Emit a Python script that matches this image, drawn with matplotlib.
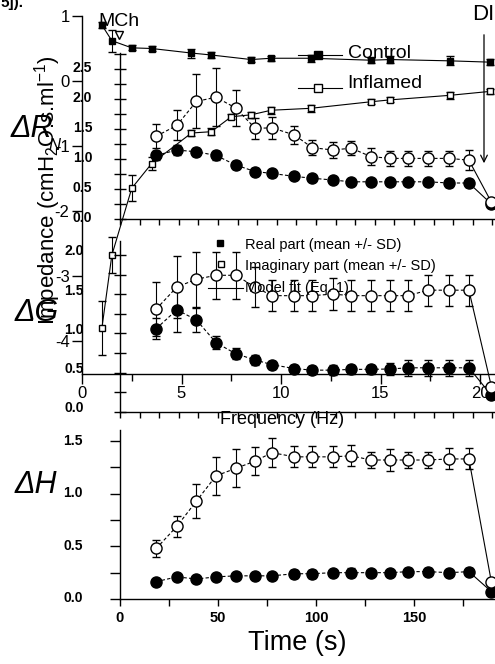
import matplotlib
matplotlib.use('Agg')
import matplotlib.pyplot as plt
from matplotlib.lines import Line2D
from matplotlib.patches import FancyArrowPatch
from matplotlib import font_manager as fm
from matplotlib.ticker import MultipleLocator, FixedLocator
import matplotlib.transforms as mtransforms

W, H = 495, 664
plt.rcParams['font.family'] = ['Liberation Sans', 'DejaVu Sans']
plt.rcParams['mathtext.fontset'] = 'custom'
plt.rcParams['mathtext.rm'] = 'Liberation Sans'
plt.rcParams['mathtext.it'] = 'Liberation Sans:italic'
names = {f.name for f in fm.fontManager.ttflist}
NARROW = 'Liberation Sans Narrow' if 'Liberation Sans Narrow' in names else 'Liberation Sans'

# ---------------- data : impedance spectra (background figure) ----------------
freq_control = [1, 1.5, 2.5, 3.5, 5.5, 6.5, 8.5, 9.5, 11.5, 14.5, 15.5, 18.5, 20.5]
imp_control = [0.86, 0.62, 0.51, 0.50, 0.43, 0.40, 0.33, 0.35, 0.35, 0.32, 0.33, 0.31, 0.29]
imp_control_sd = [0.05, 0.17, 0.04, 0.04, 0.07, 0.04, 0.04, 0.04, 0.05, 0.04, 0.05, 0.07, 0.05]
freq_inflamed = [1, 1.5, 2.5, 3.5, 5.5, 6.5, 7.5, 8.5, 9.5, 11.5, 14.5, 15.5, 18.5, 20.5]
imp_inflamed = [-3.8, -2.68, -1.65, -1.27, -0.8, -0.78, -0.55, -0.52, -0.45, -0.42, -0.32, -0.29, -0.22, -0.16]
imp_inflamed_sd = [0.41, 0.28, 0.2, 0.1, 0.05, 0.05, 0.04, 0.05, 0.05, 0.05, 0.04, 0.04, 0.05, 0.04]
imp_yticks = [1, 0, -1, -2, -3, -4]
imp_xticks = [0, 5, 10, 15, 20]

# ---------------- data : time courses (foreground figure) ----------------
time_s = [18.5, 29, 39, 49, 59, 69, 77.5, 89, 98, 108.5, 118, 128, 138, 147, 157, 168, 178, 189.5]
dRN_inflamed = [1.38, 1.56, 1.96, 2.03, 1.85, 1.51, 1.52, 1.40, 1.19, 1.15, 1.18, 1.04, 1.01, 1.01, 1.01, 1.01, 0.98, 0.28]
dRN_inflamed_sd = [0.2, 0.25, 0.45, 0.48, 0.3, 0.17, 0.18, 0.15, 0.12, 0.14, 0.12, 0.14, 0.12, 0.12, 0.12, 0.12, 0.17, 0.03]
dRN_control = [1.06, 1.15, 1.12, 1.06, 0.90, 0.79, 0.76, 0.71, 0.68, 0.65, 0.62, 0.62, 0.62, 0.62, 0.62, 0.60, 0.60, 0.25]
dRN_control_sd = [0.08, 0.08, 0.07, 0.07, 0.07, 0.06, 0.06, 0.05, 0.05, 0.05, 0.05, 0.05, 0.05, 0.05, 0.05, 0.06, 0.06, 0.02]

dG_inflamed = [1.31, 1.59, 1.69, 1.74, 1.74, 1.59, 1.48, 1.48, 1.48, 1.50, 1.48, 1.48, 1.48, 1.48, 1.55, 1.55, 1.55, 0.32]
dG_inflamed_sd = [0.35, 0.4, 0.35, 0.3, 0.3, 0.25, 0.2, 0.2, 0.2, 0.2, 0.2, 0.2, 0.2, 0.2, 0.2, 0.2, 0.2, 0.05]
dG_control = [1.06, 1.30, 1.17, 0.88, 0.74, 0.66, 0.60, 0.55, 0.53, 0.53, 0.54, 0.54, 0.545, 0.56, 0.56, 0.56, 0.56, 0.21]
dG_control_sd = [0.13, 0.28, 0.15, 0.08, 0.07, 0.06, 0.05, 0.05, 0.05, 0.06, 0.06, 0.06, 0.08, 0.1, 0.1, 0.1, 0.1, 0.02]

dH_inflamed = [0.48, 0.69, 0.93, 1.17, 1.24, 1.31, 1.39, 1.35, 1.35, 1.35, 1.36, 1.32, 1.32, 1.32, 1.32, 1.33, 1.33, 0.16]
dH_inflamed_sd = [0.08, 0.1, 0.16, 0.18, 0.18, 0.13, 0.14, 0.1, 0.1, 0.1, 0.1, 0.08, 0.1, 0.08, 0.08, 0.1, 0.1, 0.02]
dH_control = [0.165, 0.21, 0.19, 0.21, 0.22, 0.22, 0.22, 0.24, 0.24, 0.25, 0.25, 0.25, 0.25, 0.26, 0.26, 0.25, 0.26, 0.07]
dH_control_sd = [0.02, 0.03, 0.03, 0.03, 0.03, 0.03, 0.03, 0.04, 0.04, 0.03, 0.04, 0.03, 0.03, 0.03, 0.03, 0.03, 0.03, 0.01]

fig = plt.figure(figsize=(W / 100, H / 100), dpi=100)


def fbox(x0, y0, x1, y1):
    return [x0 / W, 1 - y1 / H, (x1 - x0) / W, (y1 - y0) / H]


def ft(x, y, s, **kw):
    return fig.text(x / W, 1 - y / H, s, **kw)


# ---------------- background: impedance vs frequency ----------------
PX_HZ = 19.9
axI = fig.add_axes(fbox(82, 16, 495, 374))
axI.set_facecolor('none')
axI.set_xlim(0, (495 - 82) / PX_HZ)
axI.set_ylim(1 - (374 - 16) / 65.0, 1)
for s in ('top', 'right'):
    axI.spines[s].set_visible(False)
axI.spines['left'].set_linewidth(1.0)
axI.spines['bottom'].set_linewidth(1.0)
axI.yaxis.set_major_locator(FixedLocator(imp_yticks))
axI.set_yticklabels([str(v) for v in imp_yticks])
axI.xaxis.set_major_locator(FixedLocator(imp_xticks))
axI.set_xticklabels([str(v) for v in imp_xticks])
axI.xaxis.set_minor_locator(MultipleLocator(2.5))
axI.tick_params(axis='both', which='major', direction='out', length=7, width=1, labelsize=12, pad=2)
axI.tick_params(axis='x', which='minor', direction='out', length=5, width=1)
axI.errorbar(freq_control, imp_control, yerr=imp_control_sd, fmt='-s', color='black',
             mfc='black', ms=5, lw=0.8, capsize=3, elinewidth=0.8, clip_on=False)
axI.errorbar(freq_inflamed, imp_inflamed, yerr=imp_inflamed_sd, fmt='-s', color='black',
             mfc='white', ms=5, lw=0.8, capsize=3, elinewidth=0.8, clip_on=False)

# ---------------- foreground: time courses ----------------
PX_S = 1.96
TMAX = (495 - 120) / PX_S


def time_axes(box, ymax, yticks_dir, ylen, pad, lift):
    ax = fig.add_axes(box)
    ax.set_facecolor('none')
    ax.set_xlim(0, TMAX)
    ax.set_ylim(0, ymax)
    for s in ('top', 'right'):
        ax.spines[s].set_visible(False)
    ax.spines['left'].set_linewidth(1.0)
    ax.spines['bottom'].set_linewidth(1.0)
    ax.yaxis.set_major_locator(MultipleLocator(0.5))
    ax.yaxis.set_minor_locator(MultipleLocator(0.25))
    ax.tick_params(axis='y', which='both', direction=yticks_dir, length=ylen, width=1, pad=pad)
    ax.yaxis.set_major_formatter(matplotlib.ticker.FormatStrFormatter('%.1f'))
    off = mtransforms.ScaledTranslation(0, lift / 100.0, fig.dpi_scale_trans)
    for lbl in ax.get_yticklabels():
        lbl.set_fontproperties(fm.FontProperties(family=NARROW, weight='bold', size=10))
        lbl.set_transform(lbl.get_transform() + off)
    return ax


def draw_pair(ax, infl, infl_sd, ctrl, ctrl_sd):
    for vals, sd, face in ((ctrl, ctrl_sd, 'black'), (infl, infl_sd, 'white')):
        ax.errorbar(time_s, vals, yerr=sd, fmt='o', color='black', mfc=face, ms=8,
                    capsize=3, elinewidth=0.8, clip_on=False, zorder=3)
        ax.plot(time_s[:-1], vals[:-1], color='black', lw=0.8, ls=(0, (3, 2)), zorder=2, clip_on=False)
        ax.plot(time_s[-2:], vals[-2:], color='black', lw=0.8, ls='-', zorder=2, clip_on=False)


axR = time_axes(fbox(120, 53, 495, 219), (219 - 53) / 60.0, 'inout', 8, 16, 2)
axR.xaxis.set_major_locator(MultipleLocator(10))
axR.tick_params(axis='x', direction='out', length=4, width=1, labelbottom=False)
draw_pair(axR, dRN_inflamed, dRN_inflamed_sd, dRN_control, dRN_control_sd)

axG = time_axes(fbox(120, 241, 495, 411.7), (411.7 - 241) / 78.4, 'inout', 8, 22, 5)
axG.xaxis.set_major_locator(MultipleLocator(10))
axG.tick_params(axis='x', direction='out', length=4, width=1, labelbottom=False)
draw_pair(axG, dG_inflamed, dG_inflamed_sd, dG_control, dG_control_sd)

axH = time_axes(fbox(120, 430, 495, 599), (599 - 430) / 105.3, 'out', 7, 20, 2)
axH.xaxis.set_major_locator(MultipleLocator(50))
axH.xaxis.set_minor_locator(MultipleLocator(25))
axH.tick_params(axis='x', which='major', direction='out', length=5, width=1, pad=4)
axH.tick_params(axis='x', which='minor', direction='out', length=5, width=1)
for lbl in axH.get_xticklabels():
    lbl.set_fontproperties(fm.FontProperties(family=NARROW, weight='bold', size=10.5))
draw_pair(axH, dH_inflamed, dH_inflamed_sd, dH_control, dH_control_sd)

# ---------------- legends (drawn in figure pixels) ----------------
def leg_line(x0, x1, y, marker=None, mx=None, mfc='black', ms=5):
    fig.add_artist(Line2D([x0 / W, x1 / W], [1 - y / H, 1 - y / H], transform=fig.transFigure,
                          color='black', lw=0.8))
    if marker:
        fig.add_artist(Line2D([mx / W], [1 - y / H], transform=fig.transFigure, marker=marker,
                              color='black', mfc=mfc, ms=ms, lw=0))

leg_line(298, 342, 55, 's', 318, 'black', 6)
leg_line(298, 342, 88, 's', 318, 'white', 6)
ft(348, 54, 'Control', fontsize=14, ha='left', va='center')
ft(347, 84, 'Inflamed', fontsize=14, ha='left', va='center')

fig.add_artist(Line2D([220 / W], [1 - 243 / H], transform=fig.transFigure, marker='s',
                      color='black', mfc='black', ms=5, lw=0))
fig.add_artist(Line2D([221 / W], [1 - 264 / H], transform=fig.transFigure, marker='s',
                      color='black', mfc='white', ms=5, lw=0))
leg_line(208, 243, 288)
ft(245, 245, 'Real part (mean +/- SD)', fontsize=10.5, ha='left', va='center')
ft(245, 266, 'Imaginary part (mean +/- SD)', fontsize=10.5, ha='left', va='center')
ft(245, 288, 'Model fit (Eq. 1)', fontsize=10.5, ha='left', va='center')

# ---------------- labels & annotations ----------------
ft(0, 7, '5]).', fontsize=11, fontweight='bold', ha='left', va='baseline')
ft(98, 21, 'MCh', fontsize=14, ha='left', va='center')
fig.add_artist(Line2D([119 / W], [1 - 35 / H], transform=fig.transFigure, marker='v',
                      color='black', mfc='white', ms=6, lw=0))
ft(472, 14, 'DI', fontsize=16, ha='left', va='center')
fig.add_artist(FancyArrowPatch((484 / W, 1 - 32 / H), (484 / W, 1 - 166 / H),
                               transform=fig.transFigure, arrowstyle='->', mutation_scale=12,
                               lw=0.9, color='black'))

ft(48, 190, 'Impedance (cmH$_2$O.s.ml$^{-1}$)', fontsize=16, rotation=90, ha='center', va='center')
ft(282, 420, 'Frequency (Hz)', fontsize=13, ha='center', va='center')
ft(297, 643, 'Time (s)', fontsize=19.5, ha='center', va='center')

ft(11, 129, 'ΔR', fontsize=22, style='italic', ha='left', va='center')
ft(48, 146, 'N', fontsize=12, style='italic', ha='left', va='center')
ft(15, 313, 'ΔG', fontsize=22, style='italic', ha='left', va='center')
ft(15, 485, 'ΔH', fontsize=22, style='italic', ha='left', va='center')

fig.savefig('out.png', dpi=100)
